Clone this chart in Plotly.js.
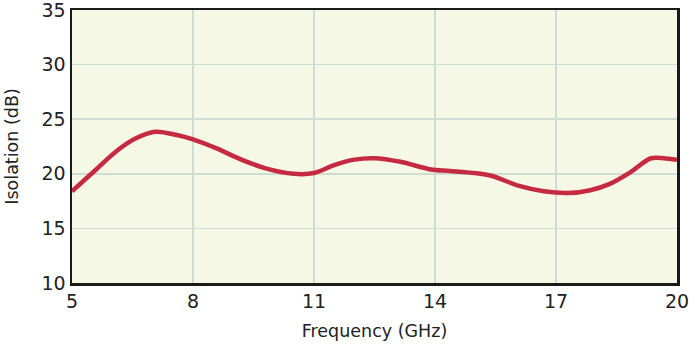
<!DOCTYPE html>
<html><head><meta charset="utf-8">
<script src="https://cdn.plot.ly/plotly-3.0.1.min.js"></script>
<style>html,body{margin:0;padding:0;background:#fff;}#chart{width:689px;height:350px;}</style>
</head><body><div id="chart"></div>
<script>
const frequency = [5.0, 5.57, 6.07, 6.56, 7.06, 7.6, 8.0, 8.6, 9.2, 9.8, 10.5, 11.0, 11.5, 12.0, 12.5, 13.14, 13.9, 14.38, 15.37, 16.04, 16.7, 17.3, 17.85, 18.35, 18.85, 19.34, 19.67, 20.0];
const isolation = [18.4, 20.3, 21.98, 23.2, 23.85, 23.55, 23.15, 22.3, 21.3, 20.5, 20.0, 20.07, 20.8, 21.3, 21.43, 21.1, 20.4, 20.25, 19.85, 18.94, 18.4, 18.24, 18.5, 19.1, 20.15, 21.4, 21.43, 21.28];
const xTicks = [5, 8, 11, 14, 17, 20];
const yTicks = [10, 15, 20, 25, 30, 35];

const trace = {
  x: frequency, y: isolation, type: 'scatter', mode: 'lines',
  line: {color: '#c62a42', width: 4.5, shape: 'spline', smoothing: 0.9},
  hoverinfo: 'skip'
};
const layout = {
  width: 689, height: 350,
  margin: {l: 72, r: 12, t: 10, b: 67},
  paper_bgcolor: '#ffffff', plot_bgcolor: '#f6f8e6',
  font: {family: 'DejaVu Sans, Verdana, sans-serif', color: '#222222'},
  showlegend: false,
  xaxis: {
    range: [5, 20], tickvals: xTicks, ticktext: xTicks.map(String),
    showgrid: true, gridcolor: '#cfdcd3', gridwidth: 1.5,
    showline: true, linecolor: '#1a1a1a', linewidth: 2.5, mirror: true,
    zeroline: false, ticks: '', tickfont: {size: 19}, ticklabeloverflow: 'allow',
    automargin: false,
    title: {text: 'Frequency (GHz)', font: {size: 17.5}, standoff: 14}
  },
  yaxis: {
    range: [10, 35], tickvals: yTicks, ticktext: yTicks.map(String),
    showgrid: true, gridcolor: '#cfdcd3', gridwidth: 1.5,
    showline: true, linecolor: '#1a1a1a', linewidth: 2.5, mirror: true,
    zeroline: false, ticks: '', tickfont: {size: 19}, ticklabeloverflow: 'allow',
    automargin: false,
    title: {text: 'Isolation (dB)', font: {size: 17.5}, standoff: 19}
  }
};
Plotly.newPlot('chart', [trace], layout, {displayModeBar: false, staticPlot: true});
</script></body></html>
